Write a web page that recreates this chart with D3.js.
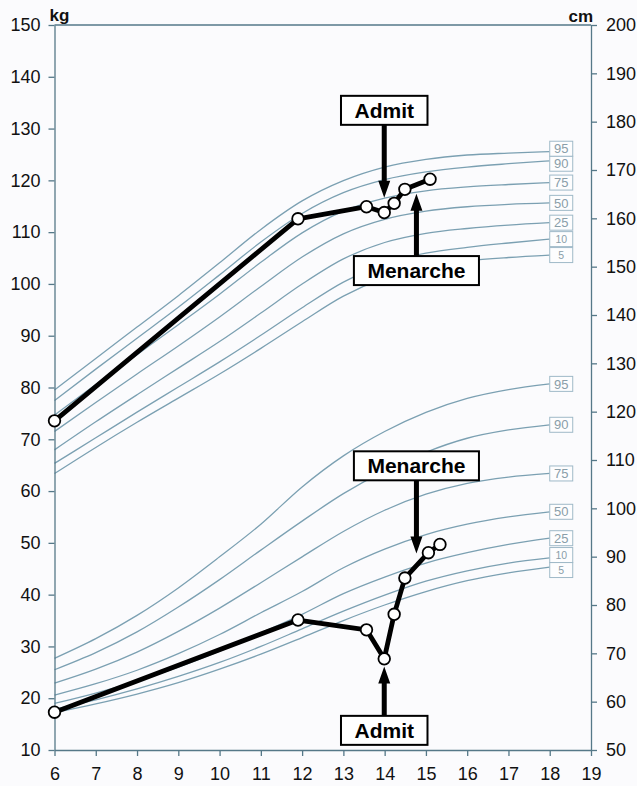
<!DOCTYPE html>
<html>
<head>
<meta charset="utf-8">
<script src="https://cdn.jsdelivr.net/npm/d3@7"></script>
<style>
  html, body { margin: 0; padding: 0; background: #fbfbfd; }
  svg { display: block; font-family: "Liberation Sans", Arial, Helvetica, sans-serif; }
</style>
</head>
<body>
<svg id="chart" width="637" height="786"></svg>
<script>
// Reference ages for the percentile curves (years)
const refAges = [6, 7, 8, 9, 10, 11, 12, 13, 14, 15, 16, 17, 18];
const percentiles = [5, 10, 25, 50, 75, 90, 95];

// Stature-for-age percentiles, girls (cm)
const heightP5  = [107.2, 112.6, 117.8, 122.8, 127.8, 133.1, 138.6, 143.9, 147.7, 150.0, 151.2, 151.9, 152.4];
const heightP10 = [109.3, 114.6, 119.9, 125.1, 130.3, 135.8, 141.5, 146.8, 150.6, 152.8, 154.0, 154.9, 155.7];
const heightP25 = [112.1, 117.9, 123.5, 129.0, 134.5, 140.4, 146.4, 151.6, 155.0, 156.9, 157.9, 158.6, 159.1];
const heightP50 = [115.9, 121.9, 127.8, 133.6, 139.6, 145.9, 152.0, 156.8, 159.8, 161.5, 162.4, 162.9, 163.2];
const heightP75 = [119.3, 125.6, 131.8, 138.0, 144.3, 150.9, 157.0, 161.5, 164.2, 165.7, 166.5, 167.0, 167.4];
const heightP90 = [122.3, 128.8, 135.2, 141.6, 148.3, 155.1, 161.0, 165.3, 168.0, 169.6, 170.6, 171.3, 171.9];
const heightP95 = [124.5, 131.0, 137.5, 144.0, 150.8, 157.7, 163.6, 167.8, 170.6, 172.2, 173.1, 173.5, 173.8];

// Weight-for-age percentiles, girls (kg)
const weightP5  = [17.2, 18.9, 20.8, 23.0, 25.6, 28.5, 31.7, 35.0, 38.0, 40.6, 42.7, 44.2, 45.3];
const weightP10 = [17.9, 19.7, 21.8, 24.2, 26.9, 30.0, 33.4, 36.8, 39.9, 42.6, 44.6, 46.1, 47.1];
const weightP25 = [19.0, 21.0, 23.3, 26.0, 29.1, 32.6, 36.2, 40.2, 43.4, 46.1, 48.1, 49.7, 50.9];
const weightP50 = [20.6, 22.8, 25.4, 28.6, 32.3, 36.5, 40.6, 45.2, 48.8, 51.6, 53.6, 55.0, 56.0];
const weightP75 = [22.9, 25.6, 28.9, 32.9, 37.4, 42.3, 47.3, 52.2, 56.3, 59.4, 61.5, 62.7, 63.4];
const weightP90 = [25.5, 28.8, 32.8, 37.6, 42.9, 48.6, 54.2, 59.5, 63.9, 67.5, 70.2, 71.8, 72.8];
const weightP95 = [27.7, 31.5, 36.0, 41.3, 47.3, 53.6, 60.8, 66.8, 71.5, 75.2, 77.9, 79.6, 80.7];

// Patient measurements
const heightAges = [6.0, 11.9, 13.56, 13.99, 14.23, 14.49, 15.10];
const heightCm   = [118.1, 159.9, 162.4, 161.2, 163.1, 166.0, 168.1];
const weightAges = [6.0, 11.9, 13.56, 13.99, 14.23, 14.49, 15.06, 15.34];
const weightKg   = [17.3, 35.1, 33.2, 27.6, 36.2, 43.2, 48.1, 49.7];

// Events
const admitAge = 13.99;
const menarcheAge = 14.77;

// Axis ticks
const ageTicks = d3.range(6, 20, 1);
const kgTicks = d3.range(10, 151, 10);
const cmTicks = d3.range(50, 201, 10);

const heightCurves = [heightP5, heightP10, heightP25, heightP50, heightP75, heightP90, heightP95];
const weightCurves = [weightP5, weightP10, weightP25, weightP50, weightP75, weightP90, weightP95];

const svg = d3.select("#chart");
const plotLeft = 54.5, plotRight = 591, plotTop = 25, plotBottom = 750;

const x = d3.scaleLinear().domain([6, 19]).range([plotLeft, plotRight]);
const yKg = d3.scaleLinear().domain([10, 150]).range([plotBottom, plotTop]);
const yCm = d3.scaleLinear().domain([50, 200]).range([plotBottom, plotTop]);

const axisColor = "#557888";
const curveColor = "#7ba0b2";

// ---- percentile curves ----
function drawCurves(curves, yScale, cls) {
  const line = d3.line().x((d, i) => x(refAges[i])).y(d => yScale(d)).curve(d3.curveMonotoneX);
  svg.append("g").attr("class", cls)
    .selectAll("path").data(curves).join("path")
    .attr("d", line)
    .attr("fill", "none")
    .attr("stroke", curveColor)
    .attr("stroke-width", 1.3);
}
drawCurves(heightCurves, yCm, "height-curves");
drawCurves(weightCurves, yKg, "weight-curves");

// ---- percentile labels at the end of each curve ----
function drawLabels(curves, yScale) {
  const boxH = 15;
  const items = curves.map((c, i) => ({ p: percentiles[i], y: yScale(c[c.length - 1]) }));
  // relax overlapping labels apart
  for (let iter = 0; iter < 50; iter++) {
    let moved = false;
    const sorted = items.slice().sort((a, b) => a.y - b.y);
    for (let i = 1; i < sorted.length; i++) {
      const gap = sorted[i].y - sorted[i - 1].y;
      if (gap < boxH - 0.01) {
        const push = (boxH - gap) / 2;
        sorted[i - 1].y -= push;
        sorted[i].y += push;
        moved = true;
      }
    }
    if (!moved) break;
  }
  const g = svg.append("g");
  const x0 = x(refAges[refAges.length - 1]);
  items.forEach(it => {
    const small = it.p < 25;
    g.append("rect")
      .attr("x", x0).attr("y", it.y - boxH / 2)
      .attr("width", 23).attr("height", boxH)
      .attr("fill", "#fdfdfe").attr("stroke", "#9fb9c8").attr("stroke-width", 1);
    g.append("text")
      .attr("x", x0 + 11.5).attr("y", it.y)
      .attr("dy", "0.36em")
      .attr("text-anchor", "middle")
      .attr("font-size", small ? 10.5 : 13)
      .attr("fill", "#8a9ea9")
      .text(it.p);
  });
}
drawLabels(heightCurves, yCm);
drawLabels(weightCurves, yKg);

// ---- axes ----
const axL = svg.append("g").attr("transform", `translate(${plotLeft},0)`)
  .call(d3.axisLeft(yKg).tickValues(kgTicks).tickSize(6).tickSizeOuter(0).tickPadding(8));
const axR = svg.append("g").attr("transform", `translate(${plotRight},0)`)
  .call(d3.axisRight(yCm).tickValues(cmTicks).tickSize(6).tickSizeOuter(0).tickPadding(9));
const axB = svg.append("g").attr("transform", `translate(0,${plotBottom})`)
  .call(d3.axisBottom(x).tickValues(ageTicks).tickSize(6).tickSizeOuter(0).tickPadding(11));
[axL, axR, axB].forEach(a => {
  a.select(".domain").attr("stroke", axisColor).attr("stroke-width", 1.3);
  a.selectAll(".tick line").attr("stroke", axisColor).attr("stroke-width", 1.3);
  a.selectAll(".tick text").attr("fill", "#111").attr("font-size", 18)
    .attr("font-family", "'Liberation Sans', Arial, sans-serif");
});
svg.append("line")
  .attr("x1", plotLeft).attr("x2", plotRight).attr("y1", plotTop).attr("y2", plotTop)
  .attr("stroke", axisColor).attr("stroke-width", 1.3);

svg.append("text").attr("x", plotLeft - 5).attr("y", plotTop - 4)
  .attr("font-size", 17).attr("font-weight", "bold").attr("fill", "#111").text("kg");
svg.append("text").attr("x", plotRight + 2).attr("y", plotTop - 3).attr("text-anchor", "end")
  .attr("font-size", 17).attr("font-weight", "bold").attr("fill", "#111").text("cm");

// ---- patient series ----
function drawSeries(ages, vals, yScale) {
  const pts = ages.map((a, i) => [x(a), yScale(vals[i])]);
  svg.append("path")
    .attr("d", d3.line()(pts))
    .attr("fill", "none").attr("stroke", "#000")
    .attr("stroke-width", 4.8).attr("stroke-linejoin", "round");
  svg.append("g").selectAll("circle").data(pts).join("circle")
    .attr("cx", d => d[0]).attr("cy", d => d[1]).attr("r", 5.8)
    .attr("fill", "#fff").attr("stroke", "#000").attr("stroke-width", 1.8);
}
drawSeries(heightAges, heightCm, yCm);
drawSeries(weightAges, weightKg, yKg);

// value of a patient series at a given age (linear between visits)
function seriesAt(ages, vals, age) {
  return d3.scaleLinear().domain(ages).range(vals).clamp(true)(age);
}

// ---- event annotations: labelled box with an arrow pointing at the curve ----
function annotate(label, age, yTarget, dir, gap, len) {
  // dir = 1: arrow points down (box above); dir = -1: arrow points up (box below)
  const ax = x(age);
  const tip = yTarget - dir * gap;
  const base = tip - dir * len;
  const headL = 17, headW = 12, shaftW = 5;
  const hb = tip - dir * headL;
  const arrow = [
    [ax - shaftW / 2, base], [ax + shaftW / 2, base],
    [ax + shaftW / 2, hb], [ax + headW / 2, hb], [ax, tip],
    [ax - headW / 2, hb], [ax - shaftW / 2, hb]
  ];
  svg.append("path").attr("d", d3.line()(arrow) + "Z").attr("fill", "#000");

  const g = svg.append("g");
  const t = g.append("text")
    .attr("text-anchor", "middle").attr("font-size", 21).attr("font-weight", "bold")
    .attr("fill", "#000").text(label);
  const w = t.node().getComputedTextLength() + 27, h = 29;
  const boxTop = dir === 1 ? base - h : base;
  g.insert("rect", "text")
    .attr("x", ax - w / 2).attr("y", boxTop).attr("width", w).attr("height", h)
    .attr("fill", "#fff").attr("stroke", "#000").attr("stroke-width", 2);
  t.attr("x", ax).attr("y", boxTop + h / 2).attr("dy", "0.36em");
}

annotate("Admit", admitAge, yCm(seriesAt(heightAges, heightCm, admitAge)), 1, 14.7, 73);
annotate("Menarche", menarcheAge, yCm(seriesAt(heightAges, heightCm, menarcheAge)), -1, 9, 62.4);
annotate("Menarche", menarcheAge, yKg(seriesAt(weightAges, weightKg, menarcheAge)), 1, 12, 73.3);
annotate("Admit", admitAge, yKg(seriesAt(weightAges, weightKg, admitAge)), -1, 7.7, 49.3);
</script>
</body>
</html>
